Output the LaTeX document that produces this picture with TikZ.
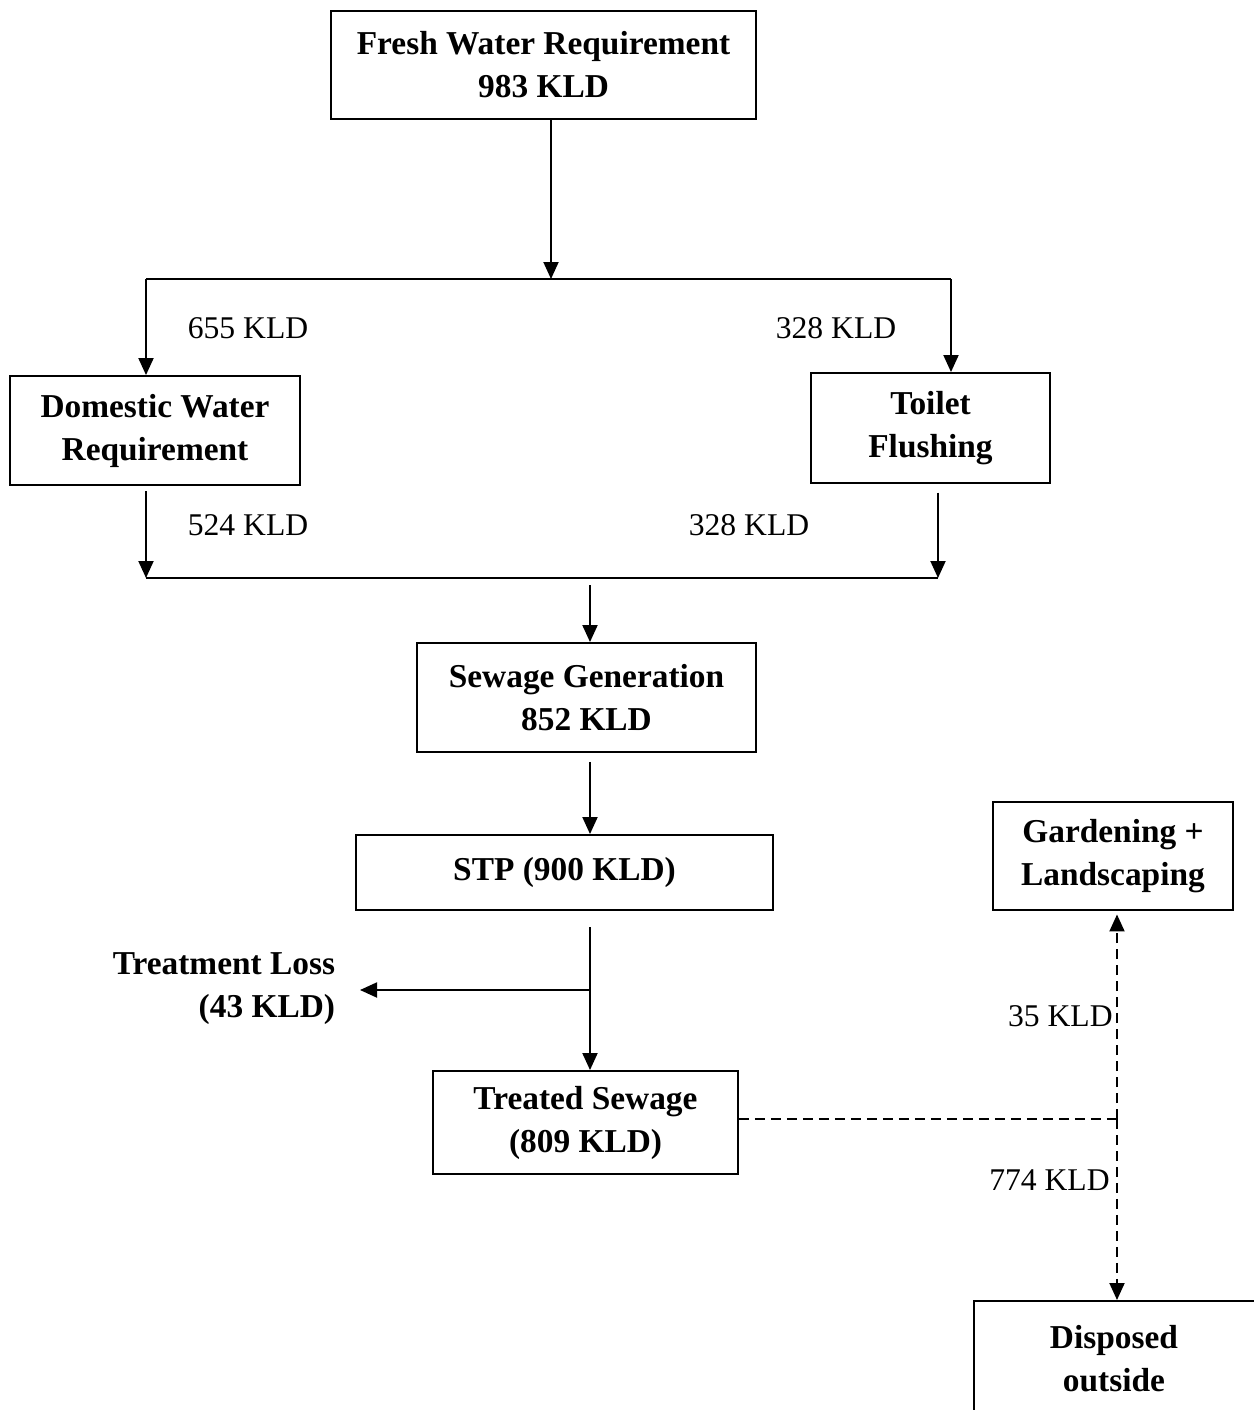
\documentclass[tikz,border=0pt]{standalone}
\usepackage{fontspec}
\setmainfont{Liberation Serif}
\usetikzlibrary{positioning,calc,arrows.meta}

\begin{document}
\begin{tikzpicture}[x=0.02cm, y=-0.02cm,
  box/.style={draw, line width=1.1pt, align=center, inner sep=0pt,
    font=\bfseries\fontsize{19}{24.5}\selectfont},
  lbl/.style={inner sep=0pt, font=\fontsize{18}{24.5}\selectfont},
  flow/.style={line width=1.1pt, -{Triangle[length=0.34cm,width=0.3cm]}},
  link/.style={line width=1.1pt},
  dashlink/.style={line width=1.1pt, dash pattern=on 0.2cm off 0.12cm}]
  \useasboundingbox (0,0) rectangle (1254,1410);
  \clip (0,0) rectangle (1254,1410);

  % Boxes
  \node[box, minimum width=8.5cm, minimum height=2.16cm] (fresh) at (543.5,65) {Fresh Water Requirement\\983 KLD};
  \node[box, minimum width=5.8cm, minimum height=2.18cm] (domestic) at (155,430.5) {Domestic Water\\Requirement};
  \node[box, minimum width=4.78cm, minimum height=2.2cm] (toilet) at (930.5,428) {Toilet\\Flushing};
  \node[box, minimum width=6.78cm, minimum height=2.18cm] (sewage) at (586.5,697.5) {Sewage Generation\\852 KLD};
  \node[box, minimum width=8.34cm, minimum height=1.5cm] (stp) at (564.5,872.5) {STP (900 KLD)};
  \node[box, minimum width=6.1cm, minimum height=2.06cm] (treated) at (585.5,1122.5) {Treated Sewage\\(809 KLD)};
  \node[box, minimum width=4.8cm, minimum height=2.16cm] (garden) at (1113,856) {Gardening +\\Landscaping};
  \node[box, minimum width=6cm, minimum height=2.3cm, anchor=north west] (disposed) at (973,1300) {Disposed\hspace*{0.4cm}\\outside\hspace*{0.4cm}};
  \node[box, draw=none, align=right, anchor=east, inner xsep=0.48cm] (loss) at (360,989) {Treatment Loss\\(43 KLD)};

  % Junctions
  \coordinate (split) at (551,279);
  \coordinate (splitL) at (146,279);
  \coordinate (splitR) at (951,279);
  \coordinate (joinL) at (146,578);
  \coordinate (joinR) at (938,578);
  \coordinate (joinC) at (590,585);
  \coordinate (stpout) at (590,927);
  \coordinate (lossfork) at (590,990);
  \coordinate (dashfork) at (1117,1119);

  % Supply side
  \draw[flow] (fresh.south -| split) -- (split);
  \draw[link] (splitL) -- (splitR);
  \draw[flow] (splitL) -- (splitL |- domestic.north);
  \draw[flow] (splitR) -- (splitR |- toilet.north);
  \node[lbl] (q655) at (248,328) {655 KLD};
  \node[lbl] (q328a) at (836,328) {328 KLD};

  % Sewage side
  \draw[flow] ([yshift=-3]domestic.south -| joinL) -- (joinL);
  \draw[flow] ([yshift=-5]toilet.south -| joinR) -- (joinR);
  \draw[link] (joinL) -- (joinR);
  \node[lbl] (q524) at (248,525) {524 KLD};
  \node[lbl] (q328b) at (749,525) {328 KLD};
  \draw[flow] (joinC) -- (joinC |- sewage.north);
  \draw[flow] ([yshift=-5]sewage.south -| joinC) -- (stp.north -| joinC);

  % Treatment
  \draw[flow] (stpout) -- (treated.north -| stpout);
  \draw[flow] (lossfork) -- (lossfork -| loss.east);

  % Reuse
  \draw[dashlink] (treated.east |- dashfork) -- (dashfork);
  \draw[dashlink, -{Triangle[length=0.34cm,width=0.3cm]}] (dashfork) -- ([yshift=-2]garden.south -| dashfork);
  \draw[dashlink, -{Triangle[length=0.34cm,width=0.3cm]}] (dashfork) -- (disposed.north -| dashfork);
  \node[lbl, anchor=east] (q35) at (1113,1016) {35 KLD};
  \node[lbl, anchor=east] (q774) at (1110,1180) {774 KLD};
\end{tikzpicture}
\end{document}
